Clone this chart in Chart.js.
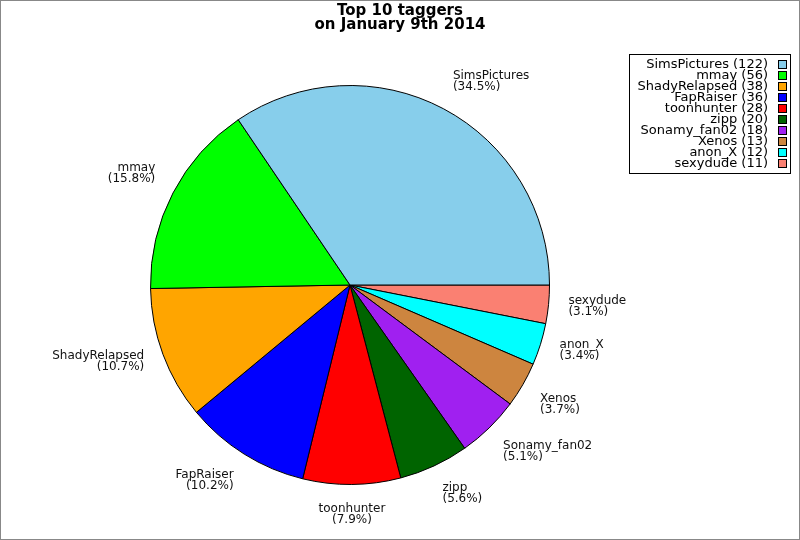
<!DOCTYPE html>
<html>
<head>
<meta charset="utf-8">
<script src="https://cdn.jsdelivr.net/npm/chart.js@4/dist/chart.umd.min.js"></script>
<style>
html,body{margin:0;padding:0;background:#fff;}
canvas{display:block;}
</style>
</head>
<body>
<canvas id="c" width="800" height="540"></canvas>
<script>
const titleLines = ["Top 10 taggers", "on January 9th 2014"];
const taggers = ["SimsPictures", "mmay", "ShadyRelapsed", "FapRaiser", "toonhunter", "zipp", "Sonamy_fan02", "Xenos", "anon_X", "sexydude"];
const counts = [122, 56, 38, 36, 28, 20, 18, 13, 12, 11];
const sliceColors = ["#87CEEB", "#00FF00", "#FFA500", "#0000FF", "#FF0000", "#006400", "#A020F0", "#CD853F", "#00FFFF", "#FA8072"];

const total = counts.reduce((a, b) => a + b, 0);
// Chart.js draws clockwise; the reference runs counter-clockwise from 3 o'clock, so feed reversed order
const revLabels = taggers.slice().reverse();
const revCounts = counts.slice().reverse();
const revColors = sliceColors.slice().reverse();

const FONT = "'DejaVu Sans', sans-serif";

const decor = {
  id: 'decor',
  beforeDraw(chart) {
    const ctx = chart.ctx;
    ctx.save();
    ctx.fillStyle = '#fff';
    ctx.fillRect(0, 0, chart.width, chart.height);
    ctx.restore();
  },
  afterDraw(chart) {
    const ctx = chart.ctx;
    ctx.save();
    // title
    ctx.fillStyle = '#000';
    ctx.font = "bold 15px " + FONT;
    ctx.textAlign = 'center';
    ctx.textBaseline = 'middle';
    titleLines.forEach((t, i) => ctx.fillText(t, 400, 11 + i * 14));

    // slice labels
    const meta = chart.getDatasetMeta(0);
    ctx.font = "12px " + FONT;
    ctx.fillStyle = '#111';
    meta.data.forEach((arc, i) => {
      const p = arc.getProps(['x', 'y', 'startAngle', 'endAngle', 'outerRadius'], true);
      const mid = (p.startAngle + p.endAngle) / 2;
      const c = Math.cos(mid), s = Math.sin(mid);
      const r = p.outerRadius * 1.1;
      const ax = p.x + r * c, ay = p.y + r * s;
      const lines = [revLabels[i], '(' + (revCounts[i] / total * 100).toFixed(1) + '%)'];
      const lh = 11, h = lh * 2 + 1;
      let top;
      if (s < -0.4) top = ay - h + 1.5;
      else if (s > 0.4) top = ay - 2;
      else top = ay - h / 2;
      if (c > 0.1) ctx.textAlign = 'left';
      else if (c < -0.1) ctx.textAlign = 'right';
      else ctx.textAlign = 'center';
      ctx.textBaseline = 'top';
      lines.forEach((t, k) => ctx.fillText(t, ax, top + k * lh));
    });

    // legend
    ctx.lineWidth = 1;
    ctx.strokeStyle = '#000';
    ctx.strokeRect(629.5, 54.5, 161, 119);
    ctx.font = "13px " + FONT;
    ctx.textAlign = 'right';
    ctx.textBaseline = 'middle';
    taggers.forEach((n, i) => {
      const y = 64.5 + i * 11;
      ctx.fillStyle = '#000';
      ctx.fillText(n + ' (' + counts[i] + ')', 768, y);
      ctx.fillStyle = sliceColors[i];
      ctx.fillRect(778, 60 + i * 11, 8, 8);
      ctx.strokeRect(778.5, 60.5 + i * 11, 8, 8);
    });

    // frame
    ctx.strokeStyle = '#888';
    ctx.strokeRect(0.5, 0.5, 799, 539);
    ctx.restore();
  }
};

new Chart(document.getElementById('c'), {
  type: 'pie',
  data: {
    labels: revLabels,
    datasets: [{
      data: revCounts,
      backgroundColor: revColors,
      borderColor: '#000',
      borderWidth: 1
    }]
  },
  options: {
    responsive: false,
    animation: false,
    devicePixelRatio: 1,
    rotation: 90,
    layout: { padding: { left: 150, right: 250, top: 85, bottom: 55 } },
    plugins: {
      legend: { display: false },
      title: { display: false },
      tooltip: { enabled: false }
    }
  },
  plugins: [decor]
});
</script>
</body>
</html>
